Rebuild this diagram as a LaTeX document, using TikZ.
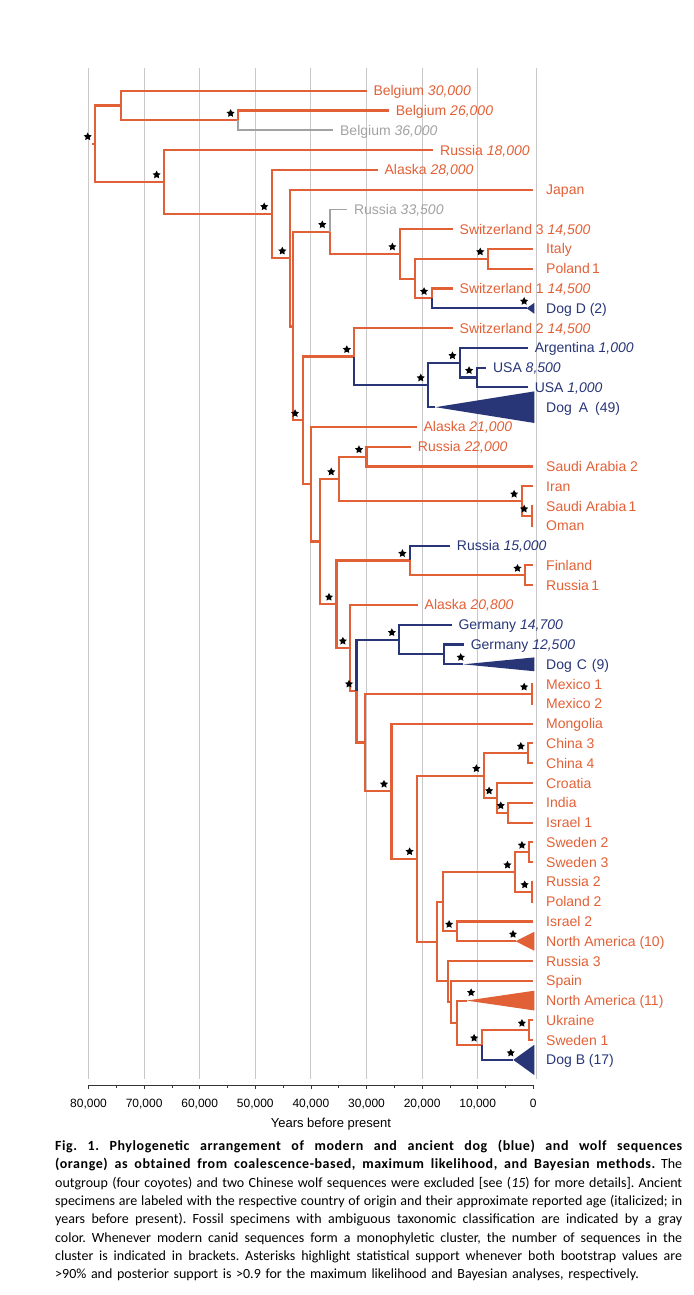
\documentclass[tikz,border=0pt]{standalone}
\usepackage{fontspec}
\setmainfont{Liberation Sans}
\newfontfamily\capfont{Carlito}
\usetikzlibrary{shapes.geometric}

\definecolor{wolfc}{RGB}{226,96,54}
\definecolor{dogc}{RGB}{40,54,120}
\definecolor{fossc}{RGB}{162,162,162}
\definecolor{gridc}{RGB}{200,200,200}
\newcommand{\tipfont}{\fontsize{14}{16}\selectfont}
\newcommand{\capline}[1]{{\frenchspacing\spaceskip=0pt\xspaceskip=0pt\makebox[627pt][s]{#1}}}
\newcommand{\capbf}[1]{{\bfseries\addfontfeature{LetterSpace=4}#1}}

\tikzset{
  wolf/.style={draw=wolfc, line width=2.1pt},
  dog/.style={draw=dogc, line width=2.1pt},
  fossil/.style={draw=fossc, line width=1.7pt},
  gridln/.style={draw=gridc, line width=0.9pt},
  axisln/.style={draw=black!80, line width=0.8pt},
  lab/.style={anchor=base west, inner sep=0pt, font=\tipfont, yshift=-5pt},
  oldtip/.style={lab, xshift=6.8pt},
  newtip/.style={lab, xshift=12.7pt},
  supp/.style={star, star points=5, star point ratio=2, fill=black,
    inner sep=0pt, minimum size=8.5pt, xshift=-7.5pt, yshift=7pt},
  suppc/.style={supp, xshift=5pt}
}

\begin{document}
\begin{tikzpicture}[x=-5.56pt, y=-19.78pt]
  \useasboundingbox (95.92,-4.585) rectangle (-28.72,60.885);

  % time grid
  \draw[gridln] (80,-1.14) -- (80,49.97);
  \draw[gridln] (70,-1.14) -- (70,49.97);
  \draw[gridln] (60,-1.14) -- (60,49.97);
  \draw[gridln] (50,-1.14) -- (50,49.97);
  \draw[gridln] (40,-1.14) -- (40,49.97);
  \draw[gridln] (30,-1.14) -- (30,49.97);
  \draw[gridln] (20,-1.14) -- (20,49.97);
  \draw[gridln] (10,-1.14) -- (10,49.97);
  \draw[gridln] (-0.6,-1.14) -- (-0.6,49.97);

  % inner nodes (age in kyr, row)
  \coordinate (in) at (79.4,2.68);
  \coordinate (root) at (78.8,2.68);
  \coordinate (bel) at (74.2,0.75);
  \coordinate (belB) at (53.1,1.5);
  \coordinate (n1) at (66.4,4.61);
  \coordinate (n2) at (47.05,6.22);
  \coordinate (nA) at (43.8,8.46);
  \coordinate (nB) at (43.2,11.92);
  \coordinate (nC) at (36.6,7.125);
  \coordinate (nD) at (24.0,8.25);
  \coordinate (nE) at (21.3,9.5);
  \coordinate (nF) at (8.2,8.5);
  \coordinate (nG) at (18.3,10.5);
  \coordinate (nH) at (41.5,16.67);
  \coordinate (nI) at (32.2,13.44);
  \coordinate (nJ) at (18.9,14.875);
  \coordinate (nK) at (13.2,13.75);
  \coordinate (nL) at (10.2,14.5);
  \coordinate (nM) at (40.0,19.9);
  \coordinate (nN) at (38.4,22.79);
  \coordinate (nO) at (35.0,19.625);
  \coordinate (nQ) at (30.0,18.5);
  \coordinate (nR) at (2.1,20.75);
  \coordinate (nS) at (0.3,21.5);
  \coordinate (nP) at (35.4,25.96);
  \coordinate (nT) at (22.2,23.75);
  \coordinate (nU) at (1.5,24.5);
  \coordinate (nV) at (32.9,28.18);
  \coordinate (nW) at (31.8,30.35);
  \coordinate (nX) at (24.1,27.75);
  \coordinate (nY) at (16.0,28.5);
  \coordinate (nZ) at (30.3,32.95);
  \coordinate (nAA) at (0.3,30.5);
  \coordinate (nAB) at (25.5,35.41);
  \coordinate (nAC) at (20.9,38.82);
  \coordinate (nAD) at (8.9,34.625);
  \coordinate (nAE) at (0.9,33.5);
  \coordinate (nAF) at (6.6,35.75);
  \coordinate (nAG) at (4.5,36.5);
  \coordinate (nAH) at (17.4,43.02);
  \coordinate (nAI) at (16.2,41);
  \coordinate (nAJ) at (3.3,39.5);
  \coordinate (nAK) at (0.7,38.5);
  \coordinate (nAL) at (0.2,40.5);
  \coordinate (nAM) at (13.8,42.5);
  \coordinate (nAN) at (15.4,45.03);
  \coordinate (nAO) at (14.8,46.06);
  \coordinate (nAP) at (13.8,47.125);
  \coordinate (nAQ) at (9.3,48.25);
  \coordinate (nAR) at (0.7,47.5);

  % tips
  \coordinate (bel30) at (30,0);
  \coordinate (bel26) at (26,1);
  \coordinate (bel36) at (36,2);
  \coordinate (rus18) at (18,3);
  \coordinate (ala28) at (28,4);
  \coordinate (japan) at (0,5);
  \coordinate (rus335) at (33.5,6);
  \coordinate (swi3) at (14.5,7);
  \coordinate (italy) at (0,8);
  \coordinate (pol1) at (0,9);
  \coordinate (swi1) at (14.5,10);
  \coordinate (dogD) at (1.2,11);
  \coordinate (swi2) at (14.5,12);
  \coordinate (arg) at (1,13);
  \coordinate (usa85) at (8.5,14);
  \coordinate (usa1) at (1,15);
  \coordinate (dogA) at (17.6,16);
  \coordinate (ala21) at (21,17);
  \coordinate (rus22) at (22,18);
  \coordinate (saud2) at (0,19);
  \coordinate (iran) at (0,20);
  \coordinate (saud1) at (0,21);
  \coordinate (oman) at (0,22);
  \coordinate (rus15) at (15,23);
  \coordinate (finl) at (0,24);
  \coordinate (rus1) at (0,25);
  \coordinate (ala208) at (20.8,26);
  \coordinate (ger147) at (14.7,27);
  \coordinate (ger125) at (12.5,28);
  \coordinate (dogC) at (12.6,29);
  \coordinate (mex1) at (0,30);
  \coordinate (mex2) at (0,31);
  \coordinate (mong) at (0,32);
  \coordinate (chi3) at (0,33);
  \coordinate (chi4) at (0,34);
  \coordinate (croa) at (0,35);
  \coordinate (ind) at (0,36);
  \coordinate (isr1) at (0,37);
  \coordinate (swe2) at (0,38);
  \coordinate (swe3) at (0,39);
  \coordinate (rus2) at (0,40);
  \coordinate (pol2) at (0,41);
  \coordinate (isr2) at (0,42);
  \coordinate (na10) at (3.2,43);
  \coordinate (rus3) at (0,44);
  \coordinate (spain) at (0,45);
  \coordinate (na11) at (12.0,46);
  \coordinate (ukr) at (0,47);
  \coordinate (swe1) at (0,48);
  \coordinate (dogB) at (3.6,49);

  % wolf branches
  \draw[wolf] (in) -- (root);
  \draw[wolf] (root) |- (bel) (root) |- (n1);
  \draw[wolf] (bel) |- (bel30) (bel) |- (belB) (belB) |- (bel26);
  \draw[wolf] (n1) |- (rus18) (n1) |- (n2);
  \draw[wolf] (n2) |- (ala28) (n2) |- (nA);
  \draw[wolf] (nA) |- (japan) (nA) |- (nB);
  \draw[wolf] (nB) |- (nC) (nB) |- (nH);
  \draw[wolf] (nC) |- (nD) (nD) |- (swi3) (nD) |- (nE);
  \draw[wolf] (nE) |- (nF) (nE) |- (nG);
  \draw[wolf] (nF) |- (italy) (nF) |- (pol1) (nG) |- (swi1);
  \draw[wolf] (nH) |- (nI) (nH) |- (nM) (nI) |- (swi2);
  \draw[wolf] (nM) |- (ala21) (nM) |- (nN);
  \draw[wolf] (nN) |- (nO) (nN) |- (nP);
  \draw[wolf] (nO) |- (nQ) (nO) |- (nR);
  \draw[wolf] (nQ) |- (rus22) (nQ) |- (saud2);
  \draw[wolf] (nR) |- (iran) (nR) |- (nS) (nS) |- (saud1) (nS) |- (oman);
  \draw[wolf] (nP) |- (nT) (nP) |- (nV) (nT) |- (nU);
  \draw[wolf] (nU) |- (finl) (nU) |- (rus1);
  \draw[wolf] (nV) |- (ala208) (nV) |- (nW) (nW) |- (nZ);
  \draw[wolf] (nZ) |- (nAA) (nZ) |- (nAB);
  \draw[wolf] (nAA) |- (mex1) (nAA) |- (mex2);
  \draw[wolf] (nAB) |- (mong) (nAB) |- (nAC);
  \draw[wolf] (nAC) |- (nAD) (nAC) |- (nAH);
  \draw[wolf] (nAD) |- (nAE) (nAD) |- (nAF);
  \draw[wolf] (nAE) |- (chi3) (nAE) |- (chi4);
  \draw[wolf] (nAF) |- (croa) (nAF) |- (nAG);
  \draw[wolf] (nAG) |- (ind) (nAG) |- (isr1);
  \draw[wolf] (nAH) |- (nAI) (nAH) |- (nAN);
  \draw[wolf] (nAI) |- (nAJ) (nAI) |- (nAM);
  \draw[wolf] (nAJ) |- (nAK) (nAJ) |- (nAL);
  \draw[wolf] (nAK) |- (swe2) (nAK) |- (swe3);
  \draw[wolf] (nAL) |- (rus2) (nAL) |- (pol2);
  \draw[wolf] (nAM) |- (isr2) (nAM) |- (na10);
  \draw[wolf] (nAN) |- (rus3) (nAN) |- (nAO);
  \draw[wolf] (nAO) |- (spain) (nAO) |- (nAP);
  \draw[wolf] (nAP) |- (na11) (nAP) |- (nAQ);
  \draw[wolf] (nAQ) |- (nAR) (nAR) |- (ukr) (nAR) |- (swe1);

  % dog branches
  \draw[dog] (nG) |- (dogD);
  \draw[dog] (nI) |- (nJ) (nJ) |- (nK) (nJ) |- (dogA);
  \draw[dog] (nK) |- (arg) (nK) |- (nL);
  \draw[dog] (nL) |- (usa85) (nL) |- (usa1);
  \draw[dog] (nT) |- (rus15);
  \draw[dog] (nW) |- (nX) (nX) |- (ger147) (nX) |- (nY);
  \draw[dog] (nY) |- (ger125) (nY) |- (dogC);
  \draw[dog] (nAQ) |- (dogB);

  % fossils of unclear status
  \draw[fossil] (belB) |- (bel36);
  \draw[fossil] (nC) |- (rus335);

  % collapsed clades
  \fill[dogc] (dogD) -- (-0.2,10.72) -- (-0.2,11.28) -- cycle;
  \fill[dogc] (dogA) -- (-0.2,15.2) -- (-0.2,16.8) -- cycle;
  \fill[dogc] (dogC) -- (-0.2,28.65) -- (-0.2,29.35) -- cycle;
  \fill[wolfc] (na10) -- (-0.2,42.52) -- (-0.2,43.48) -- cycle;
  \fill[wolfc] (na11) -- (-0.2,45.5) -- (-0.2,46.5) -- cycle;
  \fill[dogc] (dogB) -- (-0.2,48.23) -- (-0.2,49.77) -- cycle;

  % support
  \node[supp] at (root) {};
  \node[supp] at (belB) {};
  \node[supp] at (n1) {};
  \node[supp] at (n2) {};
  \node[supp] at (nA) {};
  \node[supp] at (nC) {};
  \node[supp] at (nD) {};
  \node[supp] at (nF) {};
  \node[supp] at (nG) {};
  \node[suppc] at (dogD) {};
  \node[supp] at (nH) {};
  \node[supp] at (nI) {};
  \node[supp] at (nJ) {};
  \node[supp] at (nK) {};
  \node[supp] at (nL) {};
  \node[supp] at (nO) {};
  \node[supp] at (nQ) {};
  \node[supp] at (nR) {};
  \node[supp] at (nS) {};
  \node[supp] at (nP) {};
  \node[supp] at (nT) {};
  \node[supp] at (nU) {};
  \node[supp] at (nV) {};
  \node[supp] at (nW) {};
  \node[supp] at (nX) {};
  \node[suppc] at (dogC) {};
  \node[supp] at (nAA) {};
  \node[supp] at (nAB) {};
  \node[supp] at (nAC) {};
  \node[supp] at (nAD) {};
  \node[supp] at (nAE) {};
  \node[supp] at (nAF) {};
  \node[supp] at (nAG) {};
  \node[supp] at (nAJ) {};
  \node[supp] at (nAK) {};
  \node[supp] at (nAL) {};
  \node[supp] at (nAM) {};
  \node[suppc] at (na10) {};
  \node[supp, xshift=12pt, yshift=1pt] at (na11) {};
  \node[supp] at (nAQ) {};
  \node[supp] at (nAR) {};
  \node[suppc] at (dogB) {};

  % ancient specimens
  \node[oldtip, wolfc] at (bel30) {Belgium \textit{30,000}};
  \node[oldtip, wolfc] at (bel26) {Belgium \textit{26,000}};
  \node[oldtip, fossc] at (bel36) {Belgium \textit{36,000}};
  \node[oldtip, wolfc] at (rus18) {Russia \textit{18,000}};
  \node[oldtip, wolfc] at (ala28) {Alaska \textit{28,000}};
  \node[oldtip, fossc] at (rus335) {Russia \textit{33,500}};
  \node[oldtip, wolfc] at (swi3) {Switzerland 3 \textit{14,500}};
  \node[oldtip, wolfc] at (swi1) {Switzerland 1 \textit{14,500}};
  \node[oldtip, wolfc] at (swi2) {Switzerland 2 \textit{14,500}};
  \node[oldtip, dogc] at (arg) {Argentina \textit{1,000}};
  \node[oldtip, dogc] at (usa85) {USA \textit{8,500}};
  \node[oldtip, dogc] at (usa1) {USA \textit{1,000}};
  \node[oldtip, wolfc] at (ala21) {Alaska \textit{21,000}};
  \node[oldtip, wolfc] at (rus22) {Russia \textit{22,000}};
  \node[oldtip, dogc] at (rus15) {Russia \textit{15,000}};
  \node[oldtip, wolfc] at (ala208) {Alaska \textit{20,800}};
  \node[oldtip, dogc] at (ger147) {Germany \textit{14,700}};
  \node[oldtip, dogc] at (ger125) {Germany \textit{12,500}};

  % modern sequences
  \node[newtip, wolfc] at (japan) {Japan};
  \node[newtip, wolfc] at (italy) {Italy};
  \node[newtip, wolfc] at (pol1) {Poland\,1};
  \node[newtip, dogc] at (0,11) {Dog D (2)};
  \node[newtip, dogc] at (0,16) {Dog\hspace{7pt}A\hspace{7pt}(49)};
  \node[newtip, wolfc] at (saud2) {Saudi Arabia 2};
  \node[newtip, wolfc] at (iran) {Iran};
  \node[newtip, wolfc] at (saud1) {Saudi Arabia\,1};
  \node[newtip, wolfc] at (oman) {Oman};
  \node[newtip, wolfc] at (finl) {Finland};
  \node[newtip, wolfc] at (rus1) {Russia\,1};
  \node[newtip, dogc] at (0,29) {Dog\hspace{5pt}C\hspace{5pt}(9)};
  \node[newtip, wolfc] at (mex1) {Mexico 1};
  \node[newtip, wolfc] at (mex2) {Mexico 2};
  \node[newtip, wolfc] at (mong) {Mongolia};
  \node[newtip, wolfc] at (chi3) {China 3};
  \node[newtip, wolfc] at (chi4) {China 4};
  \node[newtip, wolfc] at (croa) {Croatia};
  \node[newtip, wolfc] at (ind) {India};
  \node[newtip, wolfc] at (isr1) {Israel 1};
  \node[newtip, wolfc] at (swe2) {Sweden 2};
  \node[newtip, wolfc] at (swe3) {Sweden 3};
  \node[newtip, wolfc] at (rus2) {Russia 2};
  \node[newtip, wolfc] at (pol2) {Poland 2};
  \node[newtip, wolfc] at (isr2) {Israel 2};
  \node[newtip, wolfc] at (0,43) {North America (10)};
  \node[newtip, wolfc] at (rus3) {Russia 3};
  \node[newtip, wolfc] at (spain) {Spain};
  \node[newtip, wolfc] at (0,46) {North America (11)};
  \node[newtip, wolfc] at (ukr) {Ukraine};
  \node[newtip, wolfc] at (swe1) {Sweden 1};
  \node[newtip, dogc] at (0,49) {Dog B (17)};

  % time axis
  \draw[axisln] (80,50.27) -- (0,50.27);
  \foreach \t in {80,70,...,0}
    \draw[axisln] (\t,50.27) -- ++(0pt,-3.5pt);
  \foreach \t in {75,65,...,5}
    \draw[axisln] (\t,50.27) -- ++(0pt,-2.5pt);
  \foreach \t/\s in {80/80{,}000,70/70{,}000,60/60{,}000,50/50{,}000,
      40/40{,}000,30/30{,}000,20/20{,}000,10/10{,}000,0/0}
    \node[anchor=base, inner sep=0pt, font=\fontsize{12}{14}\selectfont] at (\t,51.4) {\s};
  \node[anchor=base, inner sep=0pt, font=\fontsize{13}{15}\selectfont] (xlab) at (36.4,52.43) {Years before present};

  % caption
  \node[anchor=base west, inner sep=0pt, text width=627pt, align=left,
    font=\capfont\fontsize{14}{18.3}\selectfont] (cap) at (86.03,53.58)
  {\capline{\capbf{Fig. 1. Phylogenetic arrangement of modern and ancient dog (blue) and wolf sequences}}\\
   \capline{\capbf{(orange) as obtained from coalescence-based, maximum likelihood, and Bayesian methods.} The}\\
   \capline{outgroup (four coyotes) and two Chinese wolf sequences were excluded [see (\textit{15}) for more details]. Ancient}\\
   \capline{specimens are labeled with the respective country of origin and their approximate reported age (italicized; in}\\
   \capline{years before present). Fossil specimens with ambiguous taxonomic classification are indicated by a gray}\\
   \capline{color. Whenever modern canid sequences form a monophyletic cluster, the number of sequences in the}\\
   \capline{cluster is indicated in brackets. Asterisks highlight statistical support whenever both bootstrap values are}\\
   >90\% and posterior support is >0.9 for the maximum likelihood and Bayesian analyses, respectively.};
\end{tikzpicture}
\end{document}
